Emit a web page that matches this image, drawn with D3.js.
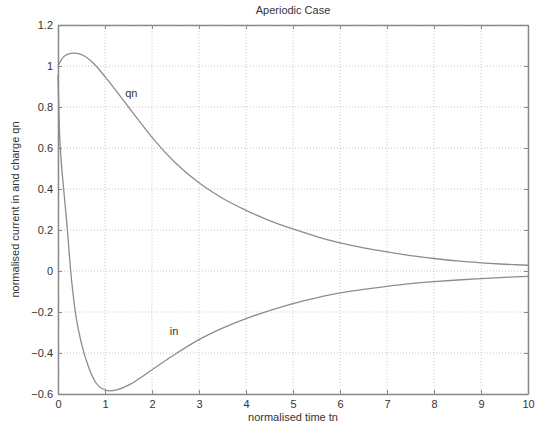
<!DOCTYPE html>
<html>
<head>
<meta charset="utf-8">
<script src="https://cdn.jsdelivr.net/npm/d3@7"></script>
<style>
  body { margin: 0; background: #fff; }
  svg { font-family: "Liberation Sans", Arial, sans-serif; }
  .tick text { fill: #333; font-size: 11px; }
</style>
</head>
<body>
<svg id="chart" width="535" height="426"></svg>
<script>
// normalised time and the two curves
const qnT = [0, 0.1, 0.2, 0.33, 0.5, 0.75, 1, 1.25, 1.5, 1.75, 2, 2.5, 3, 3.5, 4, 4.5, 5, 5.5, 6, 6.5, 7, 7.5, 8, 8.5, 9, 9.5, 10];
const qnV = [1.0, 1.04, 1.057, 1.063, 1.056, 1.015, 0.948, 0.875, 0.8, 0.725, 0.652, 0.527, 0.43, 0.355, 0.296, 0.246, 0.205, 0.168, 0.137, 0.113, 0.093, 0.075, 0.061, 0.049, 0.04, 0.033, 0.028];

const inT = [0, 0.03, 0.07, 0.12, 0.2, 0.27, 0.375, 0.5, 0.65, 0.82, 1, 1.1, 1.25, 1.5, 1.75, 2, 2.5, 3, 3.5, 4, 4.5, 5, 5.5, 6, 6.5, 7, 7.5, 8, 8.5, 9, 9.5, 10];
const inV = [0.955, 0.69, 0.53, 0.4, 0.2, 0.0, -0.21, -0.354, -0.468, -0.55, -0.58, -0.585, -0.58, -0.557, -0.522, -0.482, -0.405, -0.335, -0.279, -0.232, -0.193, -0.159, -0.131, -0.107, -0.09, -0.075, -0.062, -0.052, -0.044, -0.037, -0.031, -0.026];

const xTicks = [0, 1, 2, 3, 4, 5, 6, 7, 8, 9, 10];
const yTicks = [-0.6, -0.4, -0.2, 0, 0.2, 0.4, 0.6, 0.8, 1, 1.2];

const margin = { top: 25, right: 7, bottom: 32, left: 58 },
  width = 535 - margin.left - margin.right,
  height = 426 - margin.top - margin.bottom;

const svg = d3.select("#chart");
const g = svg.append("g").attr("transform", `translate(${margin.left},${margin.top})`);

const x = d3.scaleLinear().domain([0, 10]).range([0, width]);
const y = d3.scaleLinear().domain([-0.6, 1.2]).range([height, 0]);

// dotted grid
g.selectAll(".gx")
  .data(xTicks)
  .join("line")
  .attr("x1", (d) => x(d)).attr("x2", (d) => x(d))
  .attr("y1", 0).attr("y2", height)
  .attr("stroke", "#c8c8c8")
  .attr("stroke-dasharray", "1,2");

g.selectAll(".gy")
  .data(yTicks)
  .join("line")
  .attr("x1", 0).attr("x2", width)
  .attr("y1", (d) => y(d)).attr("y2", (d) => y(d))
  .attr("stroke", "#c8c8c8")
  .attr("stroke-dasharray", "1,2");

// axes with inward ticks, matlab style box
const fmt = (d) => d3.format("~g")(d);
const axes = [
  g.append("g").attr("transform", `translate(0,${height})`).call(d3.axisBottom(x).tickValues(xTicks).tickFormat(fmt).tickSizeInner(-4).tickSizeOuter(0).tickPadding(6)),
  g.append("g").call(d3.axisLeft(y).tickValues(yTicks).tickFormat(fmt).tickSizeInner(-4).tickSizeOuter(0).tickPadding(5)),
  g.append("g").call(d3.axisTop(x).tickValues(xTicks).tickFormat("").tickSizeInner(-4).tickSizeOuter(0)),
  g.append("g").attr("transform", `translate(${width},0)`).call(d3.axisRight(y).tickValues(yTicks).tickFormat("").tickSizeInner(-4).tickSizeOuter(0)),
];
axes.forEach((a) => {
  a.select(".domain").attr("stroke", "#8a8a8a").attr("stroke-width", 1.5);
  a.selectAll(".tick line").attr("stroke", "#8a8a8a");
});

// curves
const line = d3.line()
  .x((d) => x(d[0]))
  .y((d) => y(d[1]))
  .curve(d3.curveMonotoneX);

g.append("path")
  .datum(d3.zip(qnT, qnV))
  .attr("fill", "none")
  .attr("stroke", "#8c8c8c")
  .attr("stroke-width", 1.3)
  .attr("d", line);

g.append("path")
  .datum(d3.zip(inT, inV))
  .attr("fill", "none")
  .attr("stroke", "#8c8c8c")
  .attr("stroke-width", 1.3)
  .attr("d", line);

// curve labels
g.append("text").attr("x", x(1.56)).attr("y", y(0.85)).attr("text-anchor", "middle")
  .attr("font-size", 11).attr("fill", "#333").text("qn");
g.append("text").attr("x", x(2.47)).attr("y", y(-0.31)).attr("text-anchor", "middle")
  .attr("font-size", 11).attr("fill", "#333").text("in");

// titles
svg.append("text").attr("x", margin.left + width / 2).attr("y", 14).attr("text-anchor", "middle")
  .attr("font-size", 11).attr("fill", "#333").text("Aperiodic Case");
svg.append("text").attr("x", margin.left + width / 2).attr("y", 421).attr("text-anchor", "middle")
  .attr("font-size", 11).attr("fill", "#333").text("normalised time tn");
svg.append("text").attr("transform", `translate(19,${margin.top + height / 2}) rotate(-90)`)
  .attr("text-anchor", "middle")
  .attr("font-size", 11).attr("fill", "#333").text("normalised current in and charge qn");
</script>
</body>
</html>
